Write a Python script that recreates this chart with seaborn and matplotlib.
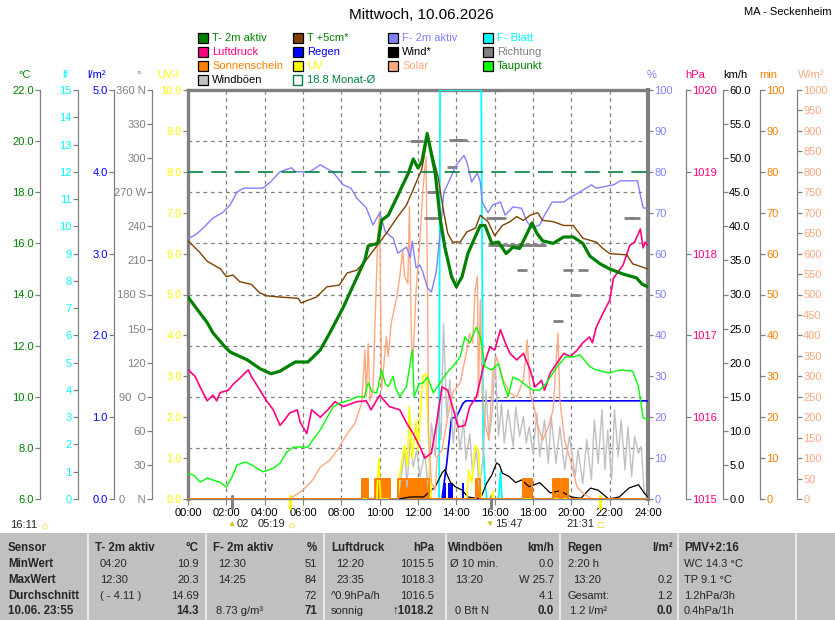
import numpy as np
import pandas as pd
import matplotlib
matplotlib.use("Agg")
import matplotlib.pyplot as plt
from matplotlib.patches import Rectangle
from matplotlib.ticker import FixedLocator
import seaborn as sns

# ---------------- data (hour of day, value) ----------------
t2m = [(0, 13.9), (0.4, 13.5), (1.0, 12.9), (1.3, 12.5), (1.93, 11.95), (2.2, 11.75), (3.1, 11.44),
       (3.75, 11.1), (4.33, 10.9), (4.8, 11.0), (5.15, 11.16), (5.6, 11.36), (6.26, 11.36), (6.9, 11.83),
       (7.4, 12.5), (8.1, 13.5), (8.71, 14.5), (9.23, 15.35), (9.4, 15.9), (9.9, 16.0), (10.1, 16.9),
       (10.45, 17.1), (10.9, 17.8), (11.15, 18.2), (11.5, 18.75), (11.75, 19.3), (12.0, 18.95),
       (12.2, 19.2), (12.48, 20.3), (12.9, 18.75), (13.15, 17.0), (13.4, 15.85), (13.75, 14.7),
       (14.0, 14.3), (14.3, 14.7), (14.6, 15.6), (14.98, 16.25), (15.25, 16.7), (15.5, 16.7),
       (15.85, 16.0), (16.2, 16.05), (16.6, 15.6), (16.95, 15.85), (17.3, 15.8), (17.7, 16.4),
       (17.95, 16.8), (18.2, 16.4), (18.5, 16.1), (19.05, 16.0), (19.6, 16.25), (20.1, 16.25),
       (20.6, 16.0), (20.97, 15.5), (21.5, 15.2), (22.0, 15.0), (22.7, 14.8), (23.4, 14.65),
       (23.7, 14.4), (24.0, 14.3)]
t5cm = [(0, 16.1), (0.6, 15.66), (1.0, 15.3), (1.7, 15.0), (2.0, 14.7), (2.35, 14.76), (2.7, 14.5),
        (3.3, 14.4), (3.75, 14.06), (4.1, 13.95), (4.8, 13.9), (5.75, 13.85), (5.9, 13.67), (6.7, 13.9),
        (7.25, 14.3), (7.9, 14.37), (8.3, 14.84), (8.8, 14.95), (9.3, 15.35), (9.85, 15.9), (10.4, 16.45),
        (10.9, 17.0), (11.4, 17.5), (12.2, 18.9), (12.5, 20.2), (13.05, 18.6), (13.3, 17.4), (13.55, 16.4),
        (13.8, 16.05), (14.2, 16.05), (14.55, 16.45), (15.0, 16.6), (15.25, 17.1), (15.65, 16.85),
        (16.0, 16.3), (16.4, 16.7), (16.8, 16.85), (17.15, 17.05), (17.5, 16.9), (17.85, 17.1),
        (18.25, 17.2), (18.5, 16.9), (19.05, 16.85), (19.6, 16.7), (20.1, 16.7), (20.6, 16.2),
        (21.3, 16.05), (21.65, 15.8), (22.0, 15.6), (22.9, 15.55), (23.2, 15.2), (24.0, 15.0)]
dewpoint = [(0, 7.0), (0.3, 6.93), (0.63, 6.66), (1.0, 6.82), (1.3, 6.74), (1.67, 6.66), (2.0, 6.47),
            (2.3, 6.86), (2.55, 7.33), (3.0, 7.45), (3.4, 7.3), (3.9, 7.06), (4.45, 7.2), (4.8, 7.4),
            (5.15, 7.84), (5.5, 8.03), (6.26, 8.03), (6.5, 8.3), (6.9, 8.7), (7.25, 9.17), (7.57, 9.6),
            (7.9, 9.75), (8.45, 9.87), (8.8, 10.0), (9.2, 10.0), (9.4, 10.54), (9.6, 10.2), (9.85, 10.15),
            (10.1, 11.05), (10.3, 10.5), (10.45, 10.4), (10.7, 10.8), (10.85, 10.3), (11.05, 10.0),
            (11.4, 10.4), (11.7, 11.83), (11.8, 10.0), (12.05, 10.5), (12.25, 10.54), (12.5, 10.77),
            (12.8, 10.15), (13.15, 10.54), (13.5, 10.93), (13.8, 11.17), (14.2, 11.56), (14.45, 12.34),
            (14.7, 12.1), (15.05, 12.73), (15.25, 12.34), (15.5, 11.17), (15.85, 11.05), (16.2, 11.3),
            (16.45, 10.54), (16.7, 10.0), (16.95, 10.77), (17.3, 10.65), (17.7, 10.4), (18.0, 10.26),
            (18.35, 10.26), (18.7, 10.54), (19.25, 11.17), (19.7, 11.56), (20.1, 11.56), (20.45, 11.64),
            (20.97, 11.17), (21.3, 11.05), (22.0, 10.93), (22.5, 11.05), (23.2, 11.0), (23.5, 10.4),
            (23.75, 9.17), (24.0, 9.1)]
monat_avg = 18.8
humidity = [(0, 63.6), (0.45, 64.8), (0.8, 66.3), (1.3, 68.7), (1.8, 70), (2.2, 71.9), (2.55, 75),
            (2.9, 76), (3.9, 76), (4.3, 77.5), (4.8, 80), (5.4, 81), (5.6, 80), (6.35, 80), (6.9, 81.7),
            (7.55, 80), (8.1, 76.8), (8.5, 76), (8.8, 73.6), (9.3, 71.2), (9.65, 67), (10.0, 70),
            (10.3, 65.3), (10.7, 63.8), (10.95, 60.1), (11.4, 61.6), (11.6, 59), (11.7, 63), (11.9, 56.5),
            (12.1, 57.2), (12.25, 55.5), (12.5, 51.6), (12.7, 50.6), (12.95, 55.5), (13.2, 67), (13.35, 75),
            (13.7, 78.5), (14.0, 81.7), (14.4, 84.0), (14.55, 82.4), (14.8, 77.5), (15.1, 79.7),
            (15.25, 77.5), (15.35, 72.6), (15.65, 70), (15.9, 71.9), (16.3, 72.6), (16.55, 69.4),
            (16.95, 71.4), (17.4, 71.1), (17.7, 67.7), (17.95, 66.3), (18.35, 67), (18.6, 69.4),
            (19.0, 72.6), (19.6, 72.6), (19.9, 73.6), (20.35, 74.8), (21.05, 76.8), (21.3, 76),
            (22.2, 76.8), (22.55, 77.8), (23.45, 77.8), (23.6, 74.3), (23.75, 71.2), (24.0, 71)]
pressure = [(0, 1016.58), (0.37, 1016.5), (0.63, 1016.37), (1.0, 1016.2), (1.3, 1016.27), (1.5, 1016.2),
            (1.67, 1016.3), (2.1, 1016.33), (2.35, 1016.4), (2.8, 1016.5), (3.15, 1016.58), (3.3, 1016.5),
            (3.65, 1016.37), (4.1, 1016.2), (4.45, 1016.09), (4.8, 1015.9), (5.05, 1015.97), (5.3, 1016.05),
            (5.7, 1016.09), (5.85, 1015.94), (6.2, 1015.8), (6.45, 1016.09), (6.9, 1016.0), (7.3, 1016.09),
            (7.67, 1016.19), (8.1, 1016.13), (8.8, 1016.19), (9.3, 1016.2), (9.55, 1016.09), (10.0, 1016.27),
            (10.5, 1016.13), (11.05, 1016.09), (11.4, 1015.93), (11.75, 1015.8), (12.0, 1015.68),
            (12.1, 1015.64), (12.35, 1015.5), (12.7, 1015.56), (13.0, 1015.97), (13.25, 1016.37),
            (13.55, 1016.33), (13.8, 1016.13), (14.1, 1015.88), (14.45, 1015.9), (14.7, 1016.13),
            (15.05, 1016.25), (15.4, 1016.61), (15.75, 1016.86), (16.0, 1016.82), (16.3, 1017.07),
            (16.55, 1016.91), (16.8, 1016.78), (17.15, 1016.7), (17.5, 1016.78), (17.85, 1016.58),
            (18.1, 1016.37), (18.45, 1016.45), (18.6, 1016.33), (18.9, 1016.54), (19.25, 1016.66),
            (19.6, 1016.78), (19.95, 1016.74), (20.3, 1016.82), (20.6, 1016.91), (20.95, 1016.98),
            (21.1, 1016.91), (21.3, 1017.1), (21.65, 1017.27), (22.0, 1017.43), (22.2, 1017.7),
            (22.7, 1017.86), (23.05, 1018.1), (23.3, 1018.14), (23.6, 1018.3), (23.75, 1018.07),
            (23.85, 1018.14), (24.0, 1018.1)]
solar = [(0, 0), (5.3, 0), (6.0, 22), (6.5, 46), (6.9, 78), (7.4, 95), (7.8, 120), (8.1, 144), (8.45, 169),
         (8.71, 185), (9.06, 234), (9.23, 364), (9.3, 250), (9.4, 380), (9.5, 240), (9.65, 266), (9.9, 641),
         (10.0, 698), (10.1, 266), (10.35, 397), (10.45, 348), (10.6, 430), (10.9, 495), (11.05, 544),
         (11.2, 609), (11.3, 544), (11.47, 527), (11.55, 715), (11.65, 400), (11.73, 332), (11.9, 511),
         (12.07, 609), (12.25, 755), (12.42, 837), (12.5, 500), (12.55, 150), (12.7, 40), (12.9, 22),
         (13.0, 103), (13.25, 120), (13.55, 200), (13.8, 260), (14.2, 284), (14.55, 364), (14.7, 405),
         (14.85, 381), (14.98, 511), (15.1, 544), (15.15, 250), (15.25, 487), (15.35, 266), (15.5, 185),
         (15.7, 144), (15.9, 307), (16.1, 347), (16.45, 291), (16.8, 259), (17.15, 249), (17.5, 291),
         (17.7, 389), (17.85, 259), (18.1, 218), (18.2, 186), (18.5, 144), (18.8, 176), (19.05, 218),
         (19.3, 406), (19.4, 242), (19.65, 144), (19.95, 95), (20.3, 29), (20.6, 15), (21.0, 2), (21.3, 0),
         (24, 0)]
gusts = [(10.95, 0), (11.15, 3.8), (11.32, 7.2), (11.42, 1.8), (11.6, 8.7), (11.75, 4.7), (11.93, 7.2),
         (12.1, 3.3), (12.35, 6.7), (12.55, 1.3), (12.7, 11.1), (12.9, 6.2), (13.05, 13.5), (13.2, 8.7),
         (13.33, 25.7), (13.5, 12.0), (13.66, 17.5), (13.84, 8.2), (14.0, 13.0), (14.2, 7.2), (14.37, 11.6),
         (14.5, 5.7), (14.7, 9.6), (14.85, 3.8), (15.05, 7.2), (15.2, 1.3), (15.4, 6.2), (15.55, 16.0),
         (15.7, 8.7), (15.9, 13.5), (16.02, 20.9), (16.2, 9.2), (16.36, 14.0), (16.5, 8.2), (16.7, 13.1),
         (16.97, 7.7), (17.1, 13.5), (17.3, 9.2), (17.5, 12.1), (17.65, 8.2), (17.8, 10.6), (18.0, 6.7),
         (18.2, 12.6), (18.35, 6.2), (18.6, 11.6), (18.8, 5.2), (18.95, 12.1), (19.2, 5.2), (19.4, 10.6),
         (19.65, 4.3), (19.9, 9.2), (20.2, 3.3), (20.35, 7.2), (20.6, 2.3), (20.8, 8.7), (21.05, 2.8),
         (21.2, 11.6), (21.4, 5.2), (21.6, 13.1), (21.75, 4.3), (21.9, 10.1), (22.1, 2.8), (22.25, 13.1),
         (22.45, 6.2), (22.6, 11.6), (22.8, 4.3), (22.95, 10.6), (23.15, 3.3), (23.3, 9.2), (23.5, 6.7),
         (23.65, 7.7), (23.8, 0.8), (24.0, 0.3)]
wind = [(11.0, 0), (11.6, 0.3), (12.3, 0.3), (12.9, 1.8), (13.25, 3.8), (13.4, 4.3), (13.7, 2.4),
        (13.95, 1.8), (14.3, 1.3), (14.6, 0.3), (15.25, 0), (15.6, 2.4), (15.85, 3.5), (16.1, 5.3),
        (16.25, 5.0), (16.4, 3.8), (16.75, 3.3), (17.1, 2.4), (17.4, 2.8), (17.8, 1.8), (18.35, 2.4),
        (18.9, 0.9), (19.4, 1.2), (20.0, 0.3), (20.5, 0.1), (21.0, 1.6), (21.4, 1.3), (21.95, 0), (22.5, 0.3),
        (23.0, 1.6), (23.5, 2.1), (23.8, 0.9), (24, 0.3)]
rain_total = [(0, 0), (13.25, 0), (13.5, 0.44), (13.75, 0.99), (14.0, 1.0), (14.35, 1.17), (14.5, 1.2), (24, 1.2)]
rain_bars = [(13.3, 0.2), (13.38, 0.2), (13.58, 0.2), (13.67, 0.2), (13.75, 0.2), (14.3, 0.2)]
leaf_wet = [(0, 0), (13.1, 0), (13.15, 15), (15.3, 15), (15.4, 2), (15.5, 0.5), (15.6, 0), (16.2, 0),
            (16.3, 1), (16.38, 0), (24, 0)]
sunshine = [(0, 0), (9.1, 5), (9.37, 0), (9.76, 5), (10.54, 0), (10.97, 5), (12.55, 0), (15.0, 5), (15.24, 0),
            (17.5, 5), (17.95, 0), (19.05, 5), (19.4, 0), (19.5, 5), (19.8, 0), (24, 0)]
uv_index = [(0, 0), (9.85, 0), (9.95, 1.0), (10.05, 0), (10.95, 0), (11.05, 0.6), (11.3, 1.3), (11.45, 0.8),
            (11.55, 2.26), (11.7, 1.0), (11.9, 1.9), (12.0, 1.2), (12.25, 3.0), (12.42, 3.07), (12.6, 1.0),
            (12.7, 0), (14.55, 0), (14.65, 0.7), (14.8, 0.4), (14.98, 1.3), (15.15, 1.2), (15.3, 0),
            (15.85, 0), (15.9, 0.2), (15.95, 0), (24, 0)]
direction = [(11.85, 315), (12.0, 315), (12.55, 247), (12.75, 270), (12.9, 270), (12.9, 247), (13.75, 292),
             (13.9, 316), (14.1, 316), (14.3, 316), (15.8, 247), (16.1, 247), (16.35, 247), (15.9, 224),
             (16.3, 224), (16.8, 224), (17.2, 224), (17.6, 224), (18.0, 224), (18.4, 224), (17.45, 202),
             (19.3, 157), (19.8, 202), (20.6, 202), (20.2, 180), (23.0, 247), (23.3, 247)]
sunrise, sunset = 5 + 19 / 60, 21 + 31 / 60
moonrise, moonset = 2.28, 15 + 47 / 60

hour_labels = [f"{h:02d}:00" for h in range(0, 25, 2)]
temp_ticks = [6, 8, 10, 12, 14, 16, 18, 20, 22]
lf_ticks = list(range(0, 16))
rainax_ticks = [0, 1, 2, 3, 4, 5]
dir_ticks = [0, 30, 60, 90, 120, 150, 180, 210, 240, 270, 300, 330, 360]
dir_labels = ["0    N", "30", "60", "90  O", "120", "150", "180 S", "210", "240", "270 W", "300", "330", "360 N"]
uv_ticks = list(range(0, 11))
hum_ticks = list(range(0, 101, 10))
pres_ticks = [1015, 1016, 1017, 1018, 1019, 1020]
kmh_ticks = list(np.arange(0, 61, 5))
min_ticks = list(range(0, 101, 10))
wm2_ticks = list(range(0, 1001, 50))

# ---------------- figure ----------------
sns.set_theme(style="white")
plt.rcParams["font.family"] = ["Liberation Sans", "DejaVu Sans"]
W, H = 835, 620
fig = plt.figure(figsize=(W / 100, H / 100), dpi=100)
fig.patch.set_facecolor("white")


def fx(px):
    return px / W


def fy(py):
    return 1 - py / H


GRAY = "#808080"
ax = fig.add_axes([fx(188), fy(499), 460 / W, 409 / H])
ax.set_xlim(0, 24)
ax.set_ylim(0, 8)
ax.set_xticks(range(0, 25, 2))
ax.set_xticklabels(hour_labels)
ax.set_yticks([])
ax.yaxis.set_minor_locator(FixedLocator(list(range(0, 9))))
ax.grid(which="major", axis="x", color=GRAY, ls=(0, (3, 3)), lw=0.9)
ax.grid(which="minor", axis="y", color=GRAY, ls=(0, (3, 3)), lw=0.9)
ax.tick_params(axis="y", which="both", length=0, left=False)
ax.tick_params(axis="x", bottom=True, length=4, width=0.8, color=GRAY, labelsize=8, pad=2.5, labelcolor="black")
ax.set_facecolor("white")
for side in ["left", "top"]:
    ax.spines[side].set_color(GRAY)
    ax.spines[side].set_linewidth(2.4)
ax.spines["right"].set_color(GRAY)
ax.spines["right"].set_linewidth(3.0)
ax.spines["bottom"].set_color(GRAY)
ax.spines["bottom"].set_linewidth(1.0)


def make_twin(side, pos, ylim, ticks=None, labels=None, color="black"):
    t = ax.twinx()
    t.set_ylim(*ylim)
    for s in t.spines.values():
        s.set_visible(False)
    t.grid(False)
    if ticks is None:
        t.set_yticks([])
        t.tick_params(axis="y", left=False, right=False)
        return t
    sp = t.spines[side]
    sp.set_visible(True)
    sp.set_position(("axes", pos))
    sp.set_color(GRAY)
    sp.set_linewidth(0.9)
    if side == "left":
        t.yaxis.tick_left()
    else:
        t.yaxis.tick_right()
    t.yaxis.set_label_position(side)
    t.set_yticks(ticks)
    t.set_yticklabels(labels)
    t.tick_params(axis="y", color=GRAY, labelcolor=color, length=3.5, width=0.9, labelsize=8, pad=1,
                  left=(side == "left"), right=(side == "right"))
    t.set_ylabel("")
    return t


def xy(pairs):
    a = np.array(pairs, dtype=float)
    return a[:, 0], a[:, 1]


# axes (draw order = creation order)
ax_lf = make_twin("left", (78 - 188) / 460, (0, 15), lf_ticks, [str(v) for v in lf_ticks], "#00FFFF")
ax_rain = make_twin("left", (114 - 188) / 460, (0, 5), rainax_ticks, [f"{v:.1f}" for v in rainax_ticks], "#0000FF")
ax_min = make_twin("right", 1.2435, (0, 100), min_ticks, [str(v) for v in min_ticks], "#FF8000")
ax_kmh = make_twin("right", 1.1630, (0, 60), kmh_ticks, [f"{v:.1f}" for v in kmh_ticks], "black")
ax_uv = make_twin("left", 0.0, (0, 10), uv_ticks, [f"{v:.1f}" for v in uv_ticks], "#FFFF00")
ax_wm2 = make_twin("right", 1.3239, (0, 1000), wm2_ticks, [str(v) for v in wm2_ticks], "#FFA880")
ax_min_top = make_twin("right", 1.2435, (0, 100))
ax_dir = make_twin("left", (152 - 188) / 460, (0, 360), dir_ticks, dir_labels, GRAY)
ax_hpa = make_twin("right", 1.0826, (1015, 1020), pres_ticks, [str(v) for v in pres_ticks], "#FF0080")
ax_hum = make_twin("right", 1.0, (0, 100), hum_ticks, [str(v) for v in hum_ticks], "#8080FF")
ax_t = make_twin("left", (40 - 188) / 460, (6, 22), temp_ticks, [f"{v:.1f}" for v in temp_ticks], "#008000")

# leaf wetness
lx, lv = xy(leaf_wet)
sns.lineplot(x=lx, y=lv, ax=ax_lf, color="#00FFFF", lw=1.3, estimator=None, sort=False)

# rain
rbx, rbv = xy(rain_bars)
ax_rain.bar(rbx, rbv, width=5 / 60, align="edge", color="#0000FF", lw=0)
rx, rv = xy(rain_total)
sns.lineplot(x=rx, y=rv, ax=ax_rain, color="#0000FF", lw=1.2, estimator=None, sort=False)

# sunshine bars
sx, sv = xy(sunshine)
ax_min.fill_between(sx, sv, step="post", color="#FF8000", lw=0)

# gusts & wind
gx, gv = xy(gusts)
sns.lineplot(x=gx, y=gv, ax=ax_kmh, color="#C0C0C0", lw=1.0, estimator=None, sort=False)
wx, wv = xy(wind)
sns.lineplot(x=wx, y=wv, ax=ax_kmh, color="black", lw=0.9, estimator=None, sort=False)

# UV
ux, uv = xy(uv_index)
sns.lineplot(x=ux, y=uv, ax=ax_uv, color="#FFFF00", lw=1.2, estimator=None, sort=False)

# solar
sox, sov = xy(solar)
sns.lineplot(x=sox, y=sov, ax=ax_wm2, color="#FFA880", lw=1.0, estimator=None, sort=False)

# sunshine outline (drawn above the low series so its zero line stays visible)
ax_min_top.plot(sx, sv, drawstyle="steps-post", color="#FF8000", lw=1.4)

# wind direction
dx, dv = xy(direction)
ax_dir.plot(dx, dv, ls="none", marker="_", ms=7, mew=2.0, color=GRAY)

# pressure, humidity
px_, pv = xy(pressure)
sns.lineplot(x=px_, y=pv, ax=ax_hpa, color="#FF0080", lw=1.2, estimator=None, sort=False)
hx, hv = xy(humidity)
sns.lineplot(x=hx, y=hv, ax=ax_hum, color="#8080FF", lw=1.0, estimator=None, sort=False)

# temperatures
ax_t.axhline(monat_avg, color="#008040", lw=1.2, dashes=(9, 5))
dpx, dpv = xy(dewpoint)
sns.lineplot(x=dpx, y=dpv, ax=ax_t, color="#00FF00", lw=1.0, estimator=None, sort=False)
t5x, t5v = xy(t5cm)
sns.lineplot(x=t5x, y=t5v, ax=ax_t, color="#804000", lw=1.0, estimator=None, sort=False)
t2x, t2v = xy(t2m)
sns.lineplot(x=t2x, y=t2v, ax=ax_t, color="#008000", lw=2.3, estimator=None, sort=False)

for a in [ax_lf, ax_rain, ax_min, ax_kmh, ax_uv, ax_wm2, ax_min_top, ax_dir, ax_hpa, ax_hum, ax_t]:
    a.set_xlim(0, 24)
    a.set_ylabel("")
    a.set_xlabel("")

# sunrise / sunset / moon markers under the axis
for hh, col in [(sunrise, "#FFFF00"), (sunset, "#FFFF00"), (moonrise, GRAY), (moonset, GRAY)]:
    ax.axvline(hh, ymin=-0.022, ymax=0.008, color=col, lw=2.2, clip_on=False)

# ---------------- texts ----------------
fig.text(fx(421), fy(15), "Mittwoch, 10.06.2026", ha="center", va="center", fontsize=11, color="black")
fig.text(fx(832), fy(12), "MA - Seckenheim", ha="right", va="center", fontsize=8, color="black")

units = [(25, "°C", "#008000"), (65, "lf", "#00FFFF"), (96, "l/m²", "#0000FF"), (139, "°", GRAY),
         (168, "UV-I", "#FFFF00"), (652, "%", "#8080FF"), (695, "hPa", "#FF0080"), (735, "km/h", "black"),
         (768, "min", "#FF8000"), (811, "W/m²", "#FFA880")]
for x, t, c in units:
    fig.text(fx(x), fy(75), t, ha="center", va="center", fontsize=8, color=c)

legend_cols = [
    (198, [("T- 2m aktiv", "#008000", "#008000"), ("Luftdruck", "#FF0080", "#FF0080"),
           ("Sonnenschein", "#FF8000", "#FF8000"), ("Windböen", "#C0C0C0", "black")]),
    (293, [("T +5cm*", "#804000", "#008000"), ("Regen", "#0000FF", "#0000FF"),
           ("UV", "#FFFF00", "#FFFF00"), ("18.8 Monat-Ø", None, "#008040")]),
    (388, [("F- 2m aktiv", "#8080FF", "#8080FF"), ("Wind*", "black", "black"), ("Solar", "#FFA880", "#FFA880")]),
    (483, [("F- Blatt", "#00FFFF", "#00FFFF"), ("Richtung", GRAY, GRAY), ("Taupunkt", "#00FF00", "#008000")]),
]
rows_y = [38, 52, 66, 80]
for x0, entries in legend_cols:
    for (lab, fc, tc), yy in zip(entries, rows_y):
        if fc is None:
            rect = Rectangle((fx(x0), fy(yy + 5)), 9 / W, 10 / H, transform=fig.transFigure,
                             fc="white", ec="#008040", lw=1.0)
        else:
            rect = Rectangle((fx(x0), fy(yy + 5)), 10 / W, 10 / H, transform=fig.transFigure,
                             fc=fc, ec="black", lw=0.9)
        fig.add_artist(rect)
        fig.text(fx(x0 + 14), fy(yy), lab, ha="left", va="center", fontsize=8, color=tc)

# bottom annotations (day length, moon and sun times)
fig.text(fx(10), fy(525), "16:11", ha="left", va="center", fontsize=8)
fig.text(fx(44), fy(526), "☼", ha="center", va="center", fontsize=8, color="#E8D000")
fig.text(fx(231), fy(524), "▲", ha="center", va="center", fontsize=6, color="#D0C000")
fig.text(fx(237), fy(524), "02", ha="left", va="center", fontsize=8)
fig.text(fx(258), fy(524), "05:19", ha="left", va="center", fontsize=8)
fig.text(fx(291), fy(525), "☼", ha="center", va="center", fontsize=8, color="#E8D000")
fig.text(fx(489), fy(524), "▼", ha="center", va="center", fontsize=6, color="#D0C000")
fig.text(fx(495), fy(524), "15:47", ha="left", va="center", fontsize=8)
fig.text(fx(566), fy(524), "21:31", ha="left", va="center", fontsize=8)
fig.text(fx(601), fy(525), "□", ha="center", va="center", fontsize=7, color="#E8D000")

# ---------------- bottom table ----------------
fig.add_artist(Rectangle((0, 0), 1, fy(533), transform=fig.transFigure, fc="#C0C0C0", ec="none"))
for sx_ in [87, 205, 323, 445, 559, 677, 795]:
    fig.add_artist(Rectangle((fx(sx_), 0), 2 / W, fy(533), transform=fig.transFigure, fc="#E8E8E8", ec="none"))

ty = [548, 564, 580, 596, 611]
first_col = ["Sensor", "MinWert", "MaxWert", "Durchschnitt", "10.06. 23:55"]
for yv, t in zip(ty, first_col):
    fig.text(fx(8), fy(yv), t, ha="left", va="center", fontsize=8.3, fontweight="bold")

table_cols = [
    (95, "T- 2m aktiv", 199, "°C", [100, 100, 100, 100], ["04:20", "12:30", "( - 4.11 )", ""],
     ["10.9", "20.3", "14.69", "14.3"]),
    (213, "F- 2m aktiv", 317, "%", [218, 218, 218, 216], ["12:30", "14:25", "", "8.73 g/m³"],
     ["51", "84", "72", "71"]),
    (331, "Luftdruck", 434, "hPa", [336, 336, 331, 331], ["12:20", "23:35", "^0.9hPa/h", "sonnig"],
     ["1015.5", "1018.3", "1016.5", "↑1018.2"]),
    (448, "Windböen", 554, "km/h", [450, 455, 455, 455], ["Ø 10 min.", "13:20", "", "0 Bft N"],
     ["0.0", "W 25.7", "4.1", "0.0"]),
    (567, "Regen", 673, "l/m²", [568, 573, 568, 570], ["2:20 h", "13:20", "Gesamt:", "1.2 l/m²"],
     ["", "0.2", "1.2", "0.0"]),
]
for hx_, head, ux_, unit, lxs, lefts, rights in table_cols:
    fig.text(fx(hx_), fy(ty[0]), head, ha="left", va="center", fontsize=8.3, fontweight="bold")
    fig.text(fx(ux_), fy(ty[0]), unit, ha="right", va="center", fontsize=8.3, fontweight="bold")
    for i in range(4):
        fig.text(fx(lxs[i]), fy(ty[i + 1]), lefts[i], ha="left", va="center", fontsize=8)
        fig.text(fx(ux_), fy(ty[i + 1]), rights[i], ha="right", va="center", fontsize=8.3 if i == 3 else 8,
                 fontweight="bold" if i == 3 else "normal")
fig.text(fx(684), fy(ty[0]), "PMV+2:16", ha="left", va="center", fontsize=8.3, fontweight="bold")
for yv, t in zip(ty[1:], ["WC 14.3 °C", "TP 9.1 °C", "1.2hPa/3h", "0.4hPa/1h"]):
    fig.text(fx(684), fy(yv), t, ha="left", va="center", fontsize=8)

fig.savefig("out.png", dpi=100, facecolor="white")
